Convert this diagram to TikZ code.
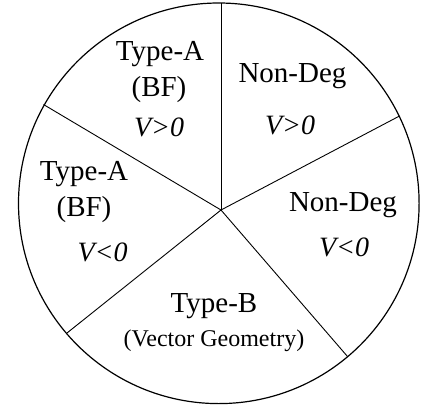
\documentclass[tikz,border=0pt]{standalone}
\usepackage{fontspec}
\setmainfont{Liberation Serif}
\begin{document}
\begin{tikzpicture}[x=1pt, y=-1pt,
    lbl/.style={font=\fontsize{29}{34}\selectfont, inner sep=0pt},
    sublbl/.style={font=\fontsize{24}{28}\selectfont, inner sep=0pt},
    cond/.style={font=\fontsize{28}{34}\selectfont\itshape, inner sep=0pt},
    spoke/.style={black, line width=0.9pt}]
    \useasboundingbox (0,0) rectangle (422,404);

    % Outer circle
    \draw[black, line width=1.2pt] (218.8,203.3) circle (200.3);

    % Hub and rim points
    \coordinate (hub) at (221,210);
    \coordinate (rimT) at (221,3.2);
    \coordinate (rimUL) at (43.5,104.5);
    \coordinate (rimUR) at (399.5,116);
    \coordinate (rimLL) at (67,333);
    \coordinate (rimLR) at (347.5,356.5);

    % Spokes
    \foreach \r in {rimT, rimUL, rimUR, rimLL, rimLR} {
        \draw[spoke] (hub) -- (\r);
    }

    % Top-left sector
    \node[lbl] (typeAtop) at (160,54) {Type-A};
    \node[lbl] (bfTop) at (159,90) {(BF)};
    \node[cond] (vposL) at (159,127) {V>0};

    % Top-right sector
    \node[lbl] (nondegTop) at (292.5,76) {Non-Deg};
    \node[cond] (vposR) at (290,125) {V>0};

    % Left sector
    \node[lbl] (typeAleft) at (84,174) {Type-A};
    \node[lbl] (bfLeft) at (84,210) {(BF)};
    \node[cond] (vnegL) at (102.5,252) {V<0};

    % Right sector
    \node[lbl] (nondegRight) at (343,205) {Non-Deg};
    \node[cond] (vnegR) at (344,247) {V<0};

    % Bottom sector
    \node[lbl] (typeB) at (214,306) {Type-B};
    \node[sublbl] (vecgeo) at (214,341) {(Vector Geometry)};
\end{tikzpicture}
\end{document}
